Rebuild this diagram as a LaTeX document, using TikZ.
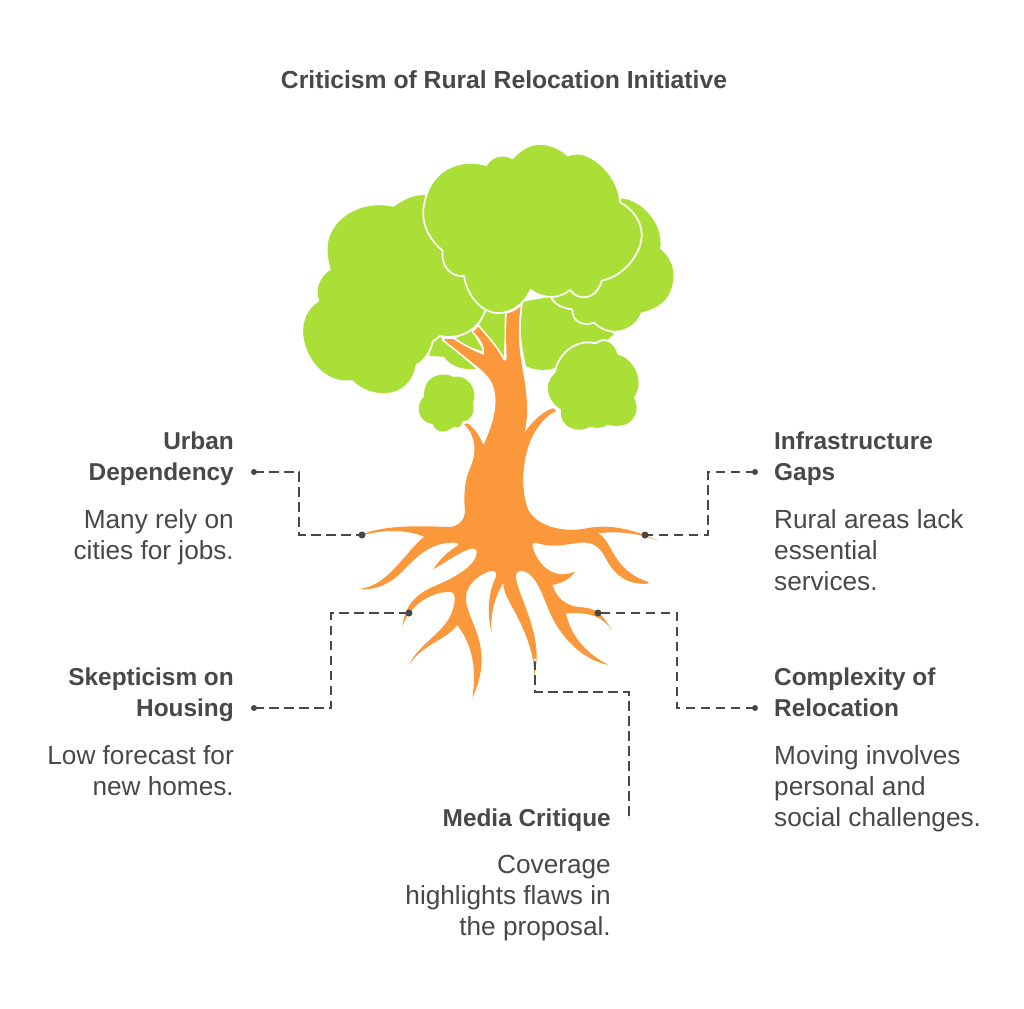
\documentclass[tikz,border=0pt]{standalone}
\usepackage{fontspec}
\setmainfont{Liberation Sans}
\definecolor{leaf}{HTML}{AADF38}
\definecolor{bark}{HTML}{FA983B}
\definecolor{ink}{HTML}{484848}
\newcommand{\trunkpath}{
 (310,-182) -- (340,-183) .. controls (375,-160) and (405,-145) .. (432,-135)
 .. controls (437,-165) and (415,-190) .. (400,-205) -- (415,-220)
 .. controls (440,-190) and (470,-160) .. (490,-120)
 .. controls (494,-114) and (499,-118) .. (500,-125)
 .. controls (498,-170) and (498,-220) .. (500,-260)
 .. controls (520,-263) and (530,-272) .. (542,-280)
 .. controls (530,-200) and (540,-130) .. (550,-80)
 .. controls (560,-20) and (568,40) .. (553,98)
 .. controls (580,60) and (615,30) .. (640,25) -- (648,33)
 .. controls (610,50) and (575,100) .. (562,150)
 .. controls (545,210) and (545,280) .. (565,330)
 .. controls (590,375) and (660,400) .. (740,385)
 .. controls (800,372) and (880,385) .. (955,423)
 .. controls (900,400) and (830,392) .. (775,400)
 .. controls (820,425) and (815,510) .. (925,546) -- (925,551)
 .. controls (860,555) and (825,525) .. (800,480)
 .. controls (780,440) and (760,425) .. (720,428)
 .. controls (680,432) and (640,445) .. (595,430)
 .. controls (585,425) and (575,428) .. (578,440)
 .. controls (590,490) and (640,545) .. (705,514)
 .. controls (695,535) and (665,550) .. (637,555)
 .. controls (650,590) and (670,618) .. (725,622)
 .. controls (770,625) and (785,640) .. (815,690)
 .. controls (790,655) and (760,635) .. (678,640)
 .. controls (690,700) and (730,755) .. (805,795)
 .. controls (735,780) and (680,730) .. (640,660)
 .. controls (610,600) and (590,510) .. (540,513)
 .. controls (528,515) and (525,525) .. (530,545)
 .. controls (540,590) and (590,680) .. (590,770)
 .. controls (590,790) and (587,810) .. (583,825)
 .. controls (582,750) and (550,680) .. (505,600)
 .. controls (495,580) and (490,565) .. (490,548)
 .. controls (465,590) and (450,640) .. (455,698)
 .. controls (440,640) and (445,575) .. (468,530)
 .. controls (473,515) and (460,508) .. (445,515)
 .. controls (395,535) and (375,570) .. (378,600)
 .. controls (382,650) and (425,700) .. (425,780)
 .. controls (425,820) and (413,860) .. (397,893)
 .. controls (410,810) and (400,740) .. (352,675)
 .. controls (320,720) and (250,730) .. (207,795)
 .. controls (235,735) and (300,705) .. (330,650)
 .. controls (345,620) and (350,580) .. (335,577)
 .. controls (285,570) and (210,610) .. (187,680)
 .. controls (195,610) and (235,580) .. (280,560)
 .. controls (340,535) and (405,500) .. (410,460)
 .. controls (412,440) and (395,443) .. (370,455)
 .. controls (340,470) and (310,490) .. (280,508)
 .. controls (300,475) and (330,450) .. (352,438)
 .. controls (360,430) and (350,427) .. (335,428)
 .. controls (255,430) and (215,490) .. (170,530)
 .. controls (135,560) and (90,572) .. (57,567)
 .. controls (120,560) and (160,510) .. (200,465)
 .. controls (220,440) and (240,420) .. (253,410)
 .. controls (190,385) and (120,390) .. (50,410)
 .. controls (110,380) and (200,375) .. (320,381)
 .. controls (350,383) and (375,365) .. (375,330)
 .. controls (370,280) and (375,240) .. (390,205)
 .. controls (410,160) and (410,110) .. (373,73) -- (382,70)
 .. controls (405,85) and (420,110) .. (430,135)
 .. controls (455,85) and (475,20) .. (463,-30)
 .. controls (458,-55) and (445,-70) .. (425,-90)
 -- cycle}
\tikzset{
  leafshape/.style={fill=leaf,draw=white,line width=1.7pt,line join=round},
  lead/.style={draw=ink,line width=2pt,dash pattern=on 9.5pt off 5.5pt},
  dot/.style={circle,fill=ink,inner sep=0pt,minimum size=7pt},
  smalldot/.style={circle,fill=ink,inner sep=0pt,minimum size=6pt},
  endpt/.style={circle,fill=white,draw=ink!30,line width=.3pt,inner sep=0pt,minimum size=3pt},
  headr/.style={anchor=north east,align=right,font=\fontsize{24.4}{31}\selectfont\bfseries,text=ink,inner sep=0pt},
  headl/.style={anchor=north west,align=left,font=\fontsize{24.4}{31}\selectfont\bfseries,text=ink,inner sep=0pt},
  bodyr/.style={anchor=north east,align=right,font=\fontsize{26.2}{31}\selectfont,text=ink,inner sep=0pt},
  bodyl/.style={anchor=north west,align=left,font=\fontsize{26.2}{31}\selectfont,text=ink,inner sep=0pt},
}
\begin{document}
\begin{tikzpicture}[x=1pt,y=-1pt]
\useasboundingbox (0,0) rectangle (1024,1008);
\fill[white] (0,0) rectangle (1024,1008);
\begin{scope}[shift={(290,130)},scale=1/3]
% middle back pieces
\fill[leaf] (428,635) -- (450,620) -- (558,716) .. controls (525,722) and (480,710) .. (462,680) -- (418,678) -- cycle;
\fill[leaf] (497,625) -- (545,603) -- (582,665) -- (530,648) -- cycle;
\fill[leaf] (565,590) -- (590,540) -- (650,545) -- (640,690) -- (600,630) -- cycle;
\fill[leaf] (700,515) .. controls (685,590) and (695,650) .. (708,708) .. controls (735,722) and (765,722) .. (792,715) -- (955,628) -- (972,612) -- (850,530) -- (785,500) -- cycle;
% back left canopy
\path[leafshape] (405,192) .. controls (370,192) and (340,205) .. (310,228)
 .. controls (280,220) and (235,220) .. (195,238)
 .. controls (140,262) and (110,310) .. (110,355)
 .. controls (110,375) and (113,398) .. (119,418)
 .. controls (90,437) and (70,475) .. (85,512)
 .. controls (50,535) and (35,570) .. (37,610)
 .. controls (40,680) and (100,765) .. (185,753)
 .. controls (215,782) and (250,792) .. (280,792)
 .. controls (335,792) and (370,760) .. (380,705)
 .. controls (405,690) and (422,665) .. (428,635)
 -- (450,618)
 .. controls (480,625) and (555,625) .. (587,540)
 -- (650,300) -- cycle;
% back right canopy
\path[leafshape] (850,300) -- (995,203) .. controls (1050,205) and (1125,275) .. (1113,355)
 .. controls (1145,380) and (1155,415) .. (1153,440)
 .. controls (1150,500) and (1120,535) .. (1055,550)
 .. controls (1040,590) and (1000,606) .. (975,605)
 .. controls (950,605) and (930,595) .. (912,578)
 .. controls (880,590) and (845,575) .. (847,538)
 .. controls (820,535) and (795,525) .. (785,505) -- cycle;
% trunk and roots
\begin{scope}[shift={(150,810)}]
\begin{scope}
\clip (0,-400) rectangle (1000,60);
\path[draw=white,line width=3.2pt,line join=round] \trunkpath;
\end{scope}
\path[fill=bark] \trunkpath;
\end{scope}
% small bushes
\path[fill=leaf] (490,741) .. controls (465,725) and (400,730) .. (402,800)
 .. controls (378,820) and (378,875) .. (428,882)
 .. controls (440,912) and (470,910) .. (490,890)
 .. controls (505,897) and (515,890) .. (517,875)
 .. controls (545,872) and (555,845) .. (549,817)
 .. controls (565,785) and (535,730) .. (490,741) -- cycle;
\path[leafshape] (795,725) .. controls (805,670) and (860,625) .. (917,640)
 .. controls (945,618) and (975,635) .. (985,672)
 .. controls (1030,680) and (1070,750) .. (1035,803)
 .. controls (1060,855) and (1020,905) .. (955,887)
 .. controls (935,898) and (915,898) .. (902,893)
 .. controls (860,915) and (805,895) .. (810,840)
 .. controls (775,820) and (750,765) .. (795,725) -- cycle;
% front canopy
\path[leafshape] (588,105)
 .. controls (560,97) and (525,95) .. (490,108)
 .. controls (445,125) and (408,165) .. (400,240)
 .. controls (397,290) and (420,330) .. (458,362)
 .. controls (452,405) and (480,442) .. (522,438)
 .. controls (530,495) and (575,550) .. (625,549)
 .. controls (665,549) and (700,525) .. (722,480)
 .. controls (755,505) and (805,510) .. (840,480)
 .. controls (865,515) and (920,510) .. (935,452)
 .. controls (1000,440) and (1058,370) .. (1055,310)
 .. controls (1053,270) and (1025,235) .. (990,217)
 .. controls (990,165) and (945,95) .. (880,73)
 .. controls (865,70) and (850,71) .. (833,76)
 .. controls (810,55) and (780,42) .. (750,42)
 .. controls (720,42) and (690,58) .. (668,85)
 .. controls (645,72) and (610,72) .. (588,105) -- cycle;
\end{scope}
% leaders
\coordinate (u) at (362,535);
\coordinate (i) at (645,535);
\coordinate (s) at (409,613);
\coordinate (c) at (598,613);
\coordinate (m) at (535,660);
\coordinate (ul) at (254,472);
\coordinate (il) at (755,472);
\coordinate (sl) at (254,708);
\coordinate (cl) at (755,708);
\coordinate (ml) at (629,818);
\draw[lead] (ul) -- (299,472) -- (299,535) -- (u);
\draw[lead] (il) -- (708,472) -- (708,535) -- (i);
\draw[lead] (sl) -- (331,708) -- (331,613) -- (s);
\draw[lead] (cl) -- (677,708) -- (677,613) -- (c);
\draw[lead] (m) -- (535,692) -- (629,692) -- (ml);
\node[dot] at (u) {};
\node[dot] at (i) {};
\node[dot] at (s) {};
\node[dot] at (c) {};
\node[endpt] at (m) {};
\node[smalldot] at (ul) {};
\node[smalldot] at (il) {};
\node[smalldot] at (sl) {};
\node[smalldot] at (cl) {};
\node[endpt] at (ml) {};
% texts
\node[font=\fontsize{24.7}{31}\selectfont\bfseries,text=ink,inner sep=0pt] (title) at (504,80) {Criticism of Rural Relocation Initiative};
\node[headr] (h1) at (234,432) {Urban\\Dependency};
\node[bodyr] (b1) at (234,509) {Many rely on\\cities for jobs.};
\node[headl] (h2) at (774,432) {Infrastructure\\Gaps};
\node[bodyl] (b2) at (774,509) {Rural areas lack\\essential\\services.};
\node[headr] (h3) at (234,668) {Skepticism on\\Housing};
\node[bodyr] (b3) at (234,745) {Low forecast for\\new homes.};
\node[headl] (h4) at (774,668) {Complexity of\\Relocation};
\node[bodyl] (b4) at (774,745) {Moving involves\\personal and\\social challenges.};
\node[headr] (h5) at (611,809) {Media Critique};
\node[bodyr] (b5) at (611,855) {Coverage\\highlights flaws in\\the proposal.};
\end{tikzpicture}
\end{document}
